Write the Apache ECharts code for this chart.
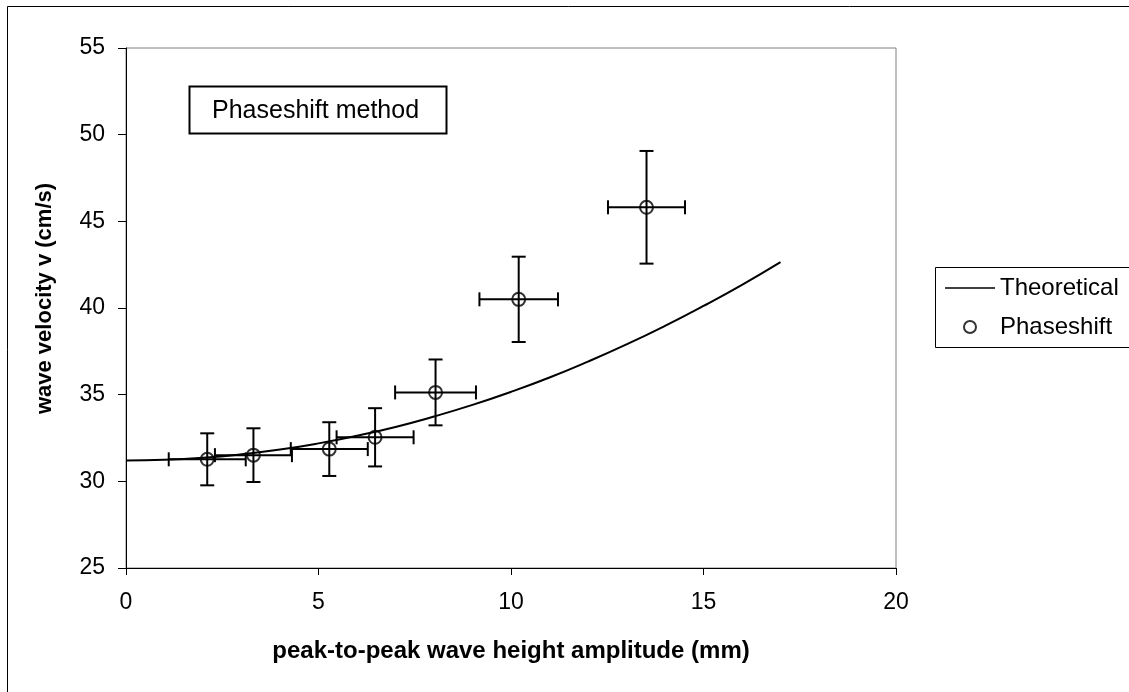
<!DOCTYPE html>
<html>
<head>
<meta charset="utf-8">
<script src="https://cdn.jsdelivr.net/npm/echarts@6/dist/echarts.min.js"></script>
<style>
html,body{margin:0;padding:0;background:#fff;}
#chart{width:1129px;height:692px;}
</style>
</head>
<body>
<div id="chart"></div>
<script>
// Theoretical curve
var theoryX = [0, 1, 2, 3, 4, 5, 6, 7, 8, 9, 10, 11, 12, 13, 14, 15, 16, 17];
var theoryY = [31.20, 31.24, 31.36, 31.56, 31.83, 32.19, 32.63, 33.14, 33.74, 34.41, 35.16, 35.99, 36.91, 37.90, 38.97, 40.12, 41.34, 42.65];
// Phaseshift measurements
var phaseX = [2.11, 3.31, 5.28, 6.47, 8.04, 10.2, 13.52];
var phaseY = [31.27, 31.51, 31.86, 32.54, 35.13, 40.5, 45.81];
var phaseXErr = [1.0, 1.0, 1.0, 1.0, 1.05, 1.02, 1.0];
var phaseYErr = [1.5, 1.55, 1.55, 1.68, 1.9, 2.46, 3.25];
var xTicks = [0, 5, 10, 15, 20];
var yTicks = [25, 30, 35, 40, 45, 50, 55];

var FONT = 'Arial, "Liberation Sans", sans-serif';
var chart = echarts.init(document.getElementById('chart'), null, {renderer: 'canvas'});

var theoryData = theoryX.map(function (x, i) { return [x, theoryY[i]]; });
var phaseData = phaseX.map(function (x, i) { return [x, phaseY[i]]; });
var errData = phaseX.map(function (x, i) { return [x, phaseY[i], phaseXErr[i], phaseYErr[i]]; });

var CAP = 7;
function renderErr(params, api) {
  var x = api.value(0), y = api.value(1), ex = api.value(2), ey = api.value(3);
  var top = api.coord([x, y + ey]);
  var bot = api.coord([x, y - ey]);
  var lft = api.coord([x - ex, y]);
  var rgt = api.coord([x + ex, y]);
  var st = {stroke: '#000', lineWidth: 2};
  function ln(x1, y1, x2, y2) { return {type: 'line', shape: {x1: x1, y1: y1, x2: x2, y2: y2}, style: st}; }
  return {
    type: 'group',
    children: [
      ln(top[0], top[1], bot[0], bot[1]),
      ln(top[0] - CAP, top[1], top[0] + CAP, top[1]),
      ln(bot[0] - CAP, bot[1], bot[0] + CAP, bot[1]),
      ln(lft[0], lft[1], rgt[0], rgt[1]),
      ln(lft[0], lft[1] - CAP, lft[0], lft[1] + CAP),
      ln(rgt[0], rgt[1] - CAP, rgt[0], rgt[1] + CAP)
    ]
  };
}

var option = {
  backgroundColor: '#fff',
  animation: false,
  textStyle: {fontFamily: FONT},
  grid: {
    left: 126, right: 233, top: 48, bottom: 124,
    show: true, borderColor: '#808080', borderWidth: 1, backgroundColor: 'transparent',
    containLabel: false
  },
  xAxis: {
    type: 'value', min: 0, max: 20, interval: 5,
    name: 'peak-to-peak wave height amplitude (mm)',
    nameLocation: 'middle', nameGap: 71,
    nameTextStyle: {fontSize: 24, fontWeight: 'bold', color: '#000', fontFamily: FONT},
    axisLine: {show: true, lineStyle: {color: '#000', width: 1}},
    axisTick: {show: true, inside: false, length: 7, lineStyle: {color: '#000'}},
    axisLabel: {fontSize: 23, color: '#000', margin: 23, fontFamily: FONT,
      formatter: function (v) { return xTicks.indexOf(v) >= 0 ? String(v) : ''; }},
    splitLine: {show: false}
  },
  yAxis: {
    type: 'value', min: 25, max: 55, interval: 5,
    name: 'wave velocity v (cm/s)',
    nameLocation: 'middle', nameGap: 70,
    nameTextStyle: {fontSize: 22, fontWeight: 'bold', color: '#000', fontFamily: FONT, padding: [0, 0, 0, 19]},
    axisLine: {show: true, lineStyle: {color: '#000', width: 1}},
    axisTick: {show: true, inside: false, length: 8, lineStyle: {color: '#000'}},
    axisLabel: {fontSize: 23, color: '#000', margin: 21, fontFamily: FONT,
      formatter: function (v) { return yTicks.indexOf(v) >= 0 ? String(v) : ''; }},
    splitLine: {show: false}
  },
  legend: {
    orient: 'vertical',
    left: 945, top: 276,
    padding: 0,
    itemGap: 15,
    itemWidth: 50, itemHeight: 12,
    textStyle: {fontSize: 24, color: '#000', fontFamily: FONT},
    data: [
      {name: 'Theoretical', icon: 'path://M0,5 L50,5 L50,6.6 L0,6.6 Z', itemStyle: {color: '#000'}},
      {name: 'Phaseshift'}
    ]
  },
  graphic: [
    {type: 'rect', shape: {x: 7.5, y: 6.5, width: 1200, height: 800}, style: {fill: 'none', stroke: '#000', lineWidth: 1}, z: -10, silent: true},
    {type: 'rect', shape: {x: 935.5, y: 267.5, width: 200, height: 80}, style: {fill: '#fff', stroke: '#000', lineWidth: 1}, z: -5, silent: true},
    {type: 'rect', shape: {x: 189.5, y: 86.5, width: 257, height: 47}, style: {fill: '#fff', stroke: '#000', lineWidth: 2}, z: 10},
    {type: 'text', left: 212, top: 99, style: {text: 'Phaseshift method', fontSize: 25, fill: '#000', fontFamily: FONT}, z: 11}
  ],
  series: [
    {
      name: 'Theoretical', type: 'line', data: theoryData,
      showSymbol: false, symbol: 'none', smooth: true,
      lineStyle: {color: '#000', width: 2}, itemStyle: {color: '#000'}, z: 2
    },
    {
      name: 'errors', type: 'custom', data: errData, renderItem: renderErr, z: 3, silent: true
    },
    {
      name: 'Phaseshift', type: 'scatter', data: phaseData,
      symbol: 'circle', symbolSize: 13,
      itemStyle: {color: 'rgba(0,0,0,0)', borderColor: '#000', borderWidth: 2}, z: 4
    }
  ]
};
chart.setOption(option);
</script>
</body>
</html>
